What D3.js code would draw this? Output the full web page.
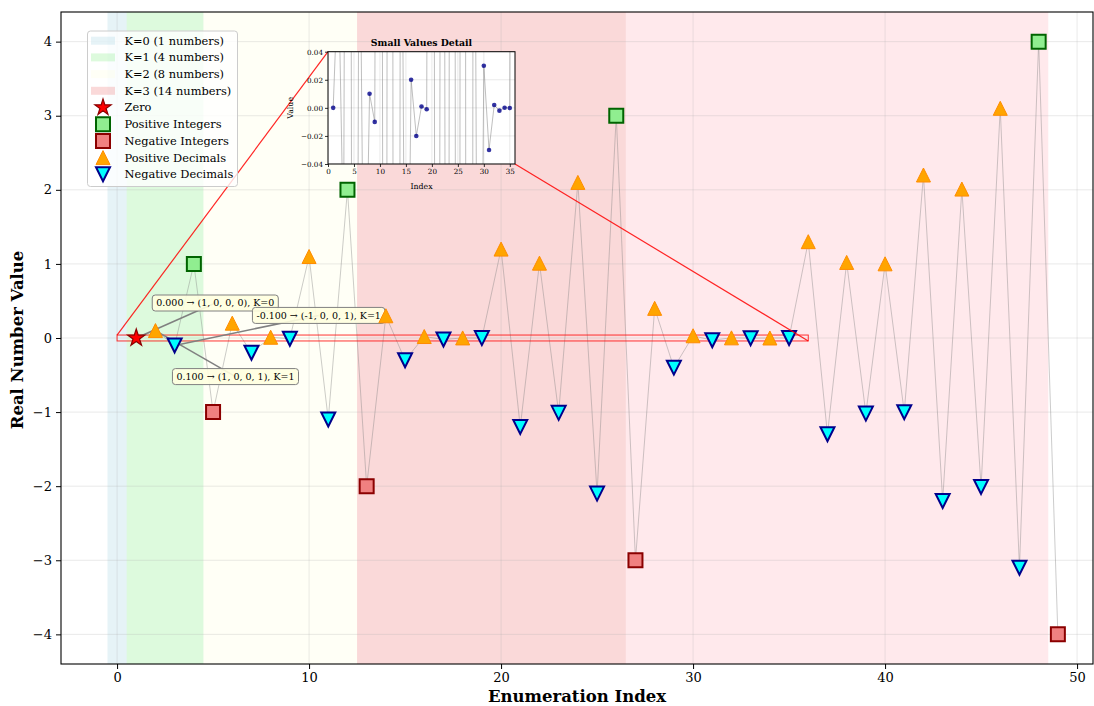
<!DOCTYPE html>
<html><head><meta charset="utf-8">
<script src="https://cdn.jsdelivr.net/npm/d3@7"></script>
<style>body{margin:0;background:#fff} text{font-family:"DejaVu Serif",serif;fill:#000}</style>
</head><body><svg id="c" width="1094" height="706"></svg>
<script>
// ---------------- data ----------------
const enumIndex = [1,2,3,4,5,6,7,8,9,10,11,12,13,14,15,16,17,18,19,20,21,22,23,24,25,26,27,28,29,30,31,32,33,34,35,36,37,38,39,40,41,42,43,44,45,46,47,48,49];
const realValues = [0,0.1,-0.1,1,-1,0.2,-0.2,0.01,-0.01,1.1,-1.1,2,-2,0.3,-0.3,0.02,-0.02,0.001,-0.001,1.2,-1.2,1.01,-1.01,2.1,-2.1,3,-3,0.4,-0.4,0.03,-0.03,0.002,-0.002,0.0001,-0.0001,1.3,-1.3,1.02,-1.02,1.001,-1.001,2.2,-2.2,2.01,-2.01,3.1,-3.1,4,-4];
const kStart = [-0.5,0.5,4.5,12.5,26.5];
const kEnd = [0.5,4.5,12.5,26.5,48.5];
const kLabels = ["K=0 (1 numbers)","K=1 (4 numbers)","K=2 (8 numbers)","K=3 (14 numbers)",null];
const kColors = ["#add8e6","#90ee90","#ffffe0","#f08080","#ffb6c1"];
const xTicks = [0,10,20,30,40,50];
const yTicks = [-4,-3,-2,-1,0,1,2,3,4];
const insetXTicks = [0,5,10,15,20,25,30,35];
const insetYTicks = [-0.04,-0.02,0,0.02,0.04];
const insetXRange = [0,36];
const insetYRange = [-0.04,0.04];
const annotTexts = ["0.000 \u2192 (1, 0, 0, 0), K=0","-0.100 \u2192 (-1, 0, 0, 1), K=1","0.100 \u2192 (1, 0, 0, 1), K=1"];
const annotIndex = [1,3,2];
const annotValue = [0,-0.1,0.1];
const annotOffset = [[79,-35],[144,-30],[80,46]];
const seriesNames = ["Zero","Positive Integers","Negative Integers","Positive Decimals","Negative Decimals"];

// ---------------- styles ----------------
const styles = {
  "Zero": {shape:"star", fill:"#ff0000", stroke:"#8b0000", sw:1.2, r:9},
  "Positive Integers": {shape:"square", fill:"#90ee90", stroke:"#006400", sw:2, r:7},
  "Negative Integers": {shape:"square", fill:"#f08080", stroke:"#8b0000", sw:2, r:7},
  "Positive Decimals": {shape:"up", fill:"#ffa500", stroke:"#ff8c00", sw:1, r:7},
  "Negative Decimals": {shape:"down", fill:"#00ffff", stroke:"#00008b", sw:2, r:7}
};
function typeOf(v){
  if (v===0) return "Zero";
  if (Number.isInteger(v)) return v>0?"Positive Integers":"Negative Integers";
  return v>0?"Positive Decimals":"Negative Decimals";
}
function shapePath(shape, r){
  if (shape==="square") return `M${-r},${-r}H${r}V${r}H${-r}Z`;
  if (shape==="up") return `M0,${-r}L${r},${r}L${-r},${r}Z`;
  if (shape==="down") return `M0,${r}L${r},${-r}L${-r},${-r}Z`;
  const ri = r*0.381966; let d="";
  for (let i=0;i<10;i++){
    const a = -Math.PI/2 + i*Math.PI/5;
    const rr = i%2===0? r: ri;
    d += (i===0?"M":"L") + (rr*Math.cos(a)).toFixed(2)+","+(rr*Math.sin(a)).toFixed(2);
  }
  return d+"Z";
}

const data = enumIndex.map((x,i)=>({x, v:realValues[i], t:typeOf(realValues[i])}));

const svg = d3.select("#c");
const L=61, R=1093, T=12, B=664;
const x = d3.scaleLinear().domain([-2.92,50.83]).range([L,R]);
const y = d3.scaleLinear().domain([-4.4,4.4]).range([B,T]);

svg.append("defs").append("clipPath").attr("id","mainclip")
  .append("rect").attr("x",L).attr("y",T).attr("width",R-L).attr("height",B-T);

const plot = svg.append("g").attr("clip-path","url(#mainclip)");

plot.selectAll("rect.k").data(kStart).join("rect").attr("class","k")
  .attr("x",(d)=>x(d)).attr("width",(d,i)=>x(kEnd[i])-x(d))
  .attr("y",T).attr("height",B-T)
  .attr("fill",(d,i)=>kColors[i]).attr("fill-opacity",0.3);

plot.selectAll("line.gx").data(xTicks).join("line")
  .attr("x1",d=>x(d)).attr("x2",d=>x(d)).attr("y1",T).attr("y2",B)
  .attr("stroke","#b0b0b0").attr("stroke-opacity",0.35).attr("stroke-width",0.8);
plot.selectAll("line.gy").data(yTicks).join("line")
  .attr("y1",d=>y(d)).attr("y2",d=>y(d)).attr("x1",L).attr("x2",R)
  .attr("stroke","#b0b0b0").attr("stroke-opacity",0.35).attr("stroke-width",0.8);

plot.append("path").datum(data)
  .attr("d", d3.line().x(d=>x(d.x)).y(d=>y(d.v)))
  .attr("fill","none").attr("stroke","#808080").attr("stroke-opacity",0.5).attr("stroke-width",0.8);

plot.append("rect")
  .attr("x",x(insetXRange[0])).attr("y",y(insetYRange[1]))
  .attr("width",x(insetXRange[1])-x(insetXRange[0])).attr("height",y(insetYRange[0])-y(insetYRange[1]))
  .attr("fill","none").attr("stroke","#ff0000").attr("stroke-opacity",0.8).attr("stroke-width",1);

const annG = svg.append("g");
annotTexts.forEach((t,i)=>{
  const px = x(annotIndex[i]), py = y(annotValue[i]);
  const cx = px+annotOffset[i][0], cy = py+annotOffset[i][1];
  annG.append("line").attr("x1",cx).attr("y1",cy).attr("x2",px).attr("y2",py)
    .attr("stroke","#808080").attr("stroke-width",1.5);
});
annotTexts.forEach((t,i)=>{
  const px = x(annotIndex[i]), py = y(annotValue[i]);
  const cx = px+annotOffset[i][0], cy = py+annotOffset[i][1];
  const g = annG.append("g");
  const tx = g.append("text").attr("x",cx).attr("y",cy).attr("text-anchor","middle")
    .attr("dy","0.35em").style("font-size","9.5px").text(t);
  const bb = tx.node().getBBox();
  g.insert("rect","text").attr("x",bb.x-4).attr("y",cy-8).attr("width",bb.width+8).attr("height",16)
    .attr("rx",3).attr("fill","#ffffe0").attr("fill-opacity",0.9).attr("stroke","#808080").attr("stroke-width",1);
});

const mk = svg.append("g").attr("clip-path","url(#mainclip)");
seriesNames.forEach(name=>{
  const st = styles[name];
  mk.selectAll(null).data(data.filter(d=>d.t===name)).join("path")
    .attr("transform",d=>`translate(${x(d.x)},${y(d.v)})`)
    .attr("d",shapePath(st.shape,st.r))
    .attr("fill",st.fill).attr("stroke",st.stroke).attr("stroke-width",st.sw)
    .attr("stroke-linejoin","miter");
});

const xAxis = svg.append("g").attr("transform",`translate(0,${B})`)
  .call(d3.axisBottom(x).tickValues(xTicks).tickSize(5).tickPadding(4).tickFormat(d3.format("d")));
const yAxis = svg.append("g").attr("transform",`translate(${L},0)`)
  .call(d3.axisLeft(y).tickValues(yTicks).tickSize(5).tickPadding(4).tickFormat(d=>d<0?"\u2212"+Math.abs(d):d));
[xAxis,yAxis].forEach(a=>{a.selectAll("text").style("font-size","13px").style("font-family","DejaVu Serif"); a.select(".domain").remove();
  a.selectAll("line").attr("stroke","#000").attr("stroke-width",1);});
svg.append("rect").attr("x",L).attr("y",T).attr("width",R-L).attr("height",B-T)
  .attr("fill","none").attr("stroke","#000").attr("stroke-width",1.1);

svg.append("text").attr("x",(L+R)/2).attr("y",702).attr("text-anchor","middle")
  .style("font-size","16.5px").style("font-weight","bold").text("Enumeration Index");
svg.append("text").attr("transform","translate(23,340) rotate(-90)").attr("text-anchor","middle")
  .style("font-size","16.5px").style("font-weight","bold").text("Real Number Value");

// ---------------- inset ----------------
const IL=328, IR=515, IT=51.7, IB=164;
const gx = d3.scaleLinear().domain(insetXRange).range([IL,IR]);
const gy = d3.scaleLinear().domain(insetYRange).range([IB,IT]);

svg.append("line").attr("x1",x(insetXRange[0])).attr("y1",y(insetYRange[1])).attr("x2",IL).attr("y2",IT)
  .attr("stroke","#ff0000").attr("stroke-opacity",0.85).attr("stroke-width",1.2);
svg.append("line").attr("x1",x(insetXRange[1])).attr("y1",y(insetYRange[0])).attr("x2",IR).attr("y2",IB)
  .attr("stroke","#ff0000").attr("stroke-opacity",0.85).attr("stroke-width",1.2);

svg.select("defs").append("clipPath").attr("id","insclip")
  .append("rect").attr("x",IL).attr("y",IT).attr("width",IR-IL).attr("height",IB-IT);
const ins = svg.append("g");
ins.append("rect").attr("x",IL).attr("y",IT).attr("width",IR-IL).attr("height",IB-IT).attr("fill","#fff");
const ip = ins.append("g").attr("clip-path","url(#insclip)");
ip.selectAll(null).data(insetXTicks).join("line")
  .attr("x1",d=>gx(d)).attr("x2",d=>gx(d)).attr("y1",IT).attr("y2",IB)
  .attr("stroke","#b0b0b0").attr("stroke-opacity",0.35).attr("stroke-width",0.8);
ip.selectAll(null).data(insetYTicks).join("line")
  .attr("y1",d=>gy(d)).attr("y2",d=>gy(d)).attr("x1",IL).attr("x2",IR)
  .attr("stroke","#b0b0b0").attr("stroke-opacity",0.35).attr("stroke-width",0.8);
ip.append("path").datum(data)
  .attr("d", d3.line().x(d=>gx(d.x)).y(d=>gy(d.v)))
  .attr("fill","none").attr("stroke","#808080").attr("stroke-opacity",0.5).attr("stroke-width",1);
ip.selectAll(null).data(data.filter(d=>Math.abs(d.v)<=0.04)).join("circle")
  .attr("cx",d=>gx(d.x)).attr("cy",d=>gy(d.v)).attr("r",2.3)
  .attr("fill","#00008b").attr("fill-opacity",0.8);
const ixa = ins.append("g").attr("transform",`translate(0,${IB})`)
  .call(d3.axisBottom(gx).tickValues(insetXTicks).tickSize(3).tickPadding(2).tickFormat(d3.format("d")));
const iya = ins.append("g").attr("transform",`translate(${IL},0)`)
  .call(d3.axisLeft(gy).tickValues(insetYTicks).tickSize(3).tickPadding(2).tickFormat(d=>{const s=d3.format(".2f")(Math.abs(d)); return d<0?"\u2212"+s:s;}));
[ixa,iya].forEach(a=>{a.selectAll("text").style("font-size","7.2px").style("font-family","DejaVu Serif"); a.select(".domain").remove();
  a.selectAll("line").attr("stroke","#000").attr("stroke-width",0.8);});
ins.append("rect").attr("x",IL).attr("y",IT).attr("width",IR-IL).attr("height",IB-IT)
  .attr("fill","none").attr("stroke","#000").attr("stroke-width",1);
ins.append("text").attr("x",(IL+IR)/2).attr("y",46).attr("text-anchor","middle")
  .style("font-size","9.3px").style("font-weight","bold").text("Small Values Detail");
ins.append("text").attr("x",(IL+IR)/2).attr("y",189).attr("text-anchor","middle")
  .style("font-size","7.8px").text("Index");
ins.append("text").attr("transform",`translate(293,${(IT+IB)/2}) rotate(-90)`).attr("text-anchor","middle")
  .style("font-size","7.8px").text("Value");

// ---------------- legend ----------------
const lg = svg.append("g");
lg.append("rect").attr("x",87.5).attr("y",31).attr("width",150).attr("height",155.5).attr("rx",3)
  .attr("fill","#fff").attr("fill-opacity",0.8).attr("stroke","#cccccc").attr("stroke-width",1);
const entries = [];
kLabels.forEach((l,i)=>{ if(l) entries.push({label:l, patch:kColors[i]}); });
seriesNames.forEach(n=>entries.push({label:n, style:styles[n]}));
entries.forEach((e,i)=>{
  const cy = 40.7 + i*16.7;
  if (e.patch){
    lg.append("rect").attr("x",91).attr("y",cy-4).attr("width",24).attr("height",8)
      .attr("fill",e.patch).attr("fill-opacity",0.3);
  } else {
    const st=e.style;
    lg.append("path").attr("transform",`translate(103,${cy})`).attr("d",shapePath(st.shape, st.shape==="star"?8.5:st.r))
      .attr("fill",st.fill).attr("stroke",st.stroke).attr("stroke-width",st.sw);
  }
  lg.append("text").attr("x",124.5).attr("y",cy).attr("dy","0.35em").style("font-size","11.4px").text(e.label);
});
</script></body></html>
